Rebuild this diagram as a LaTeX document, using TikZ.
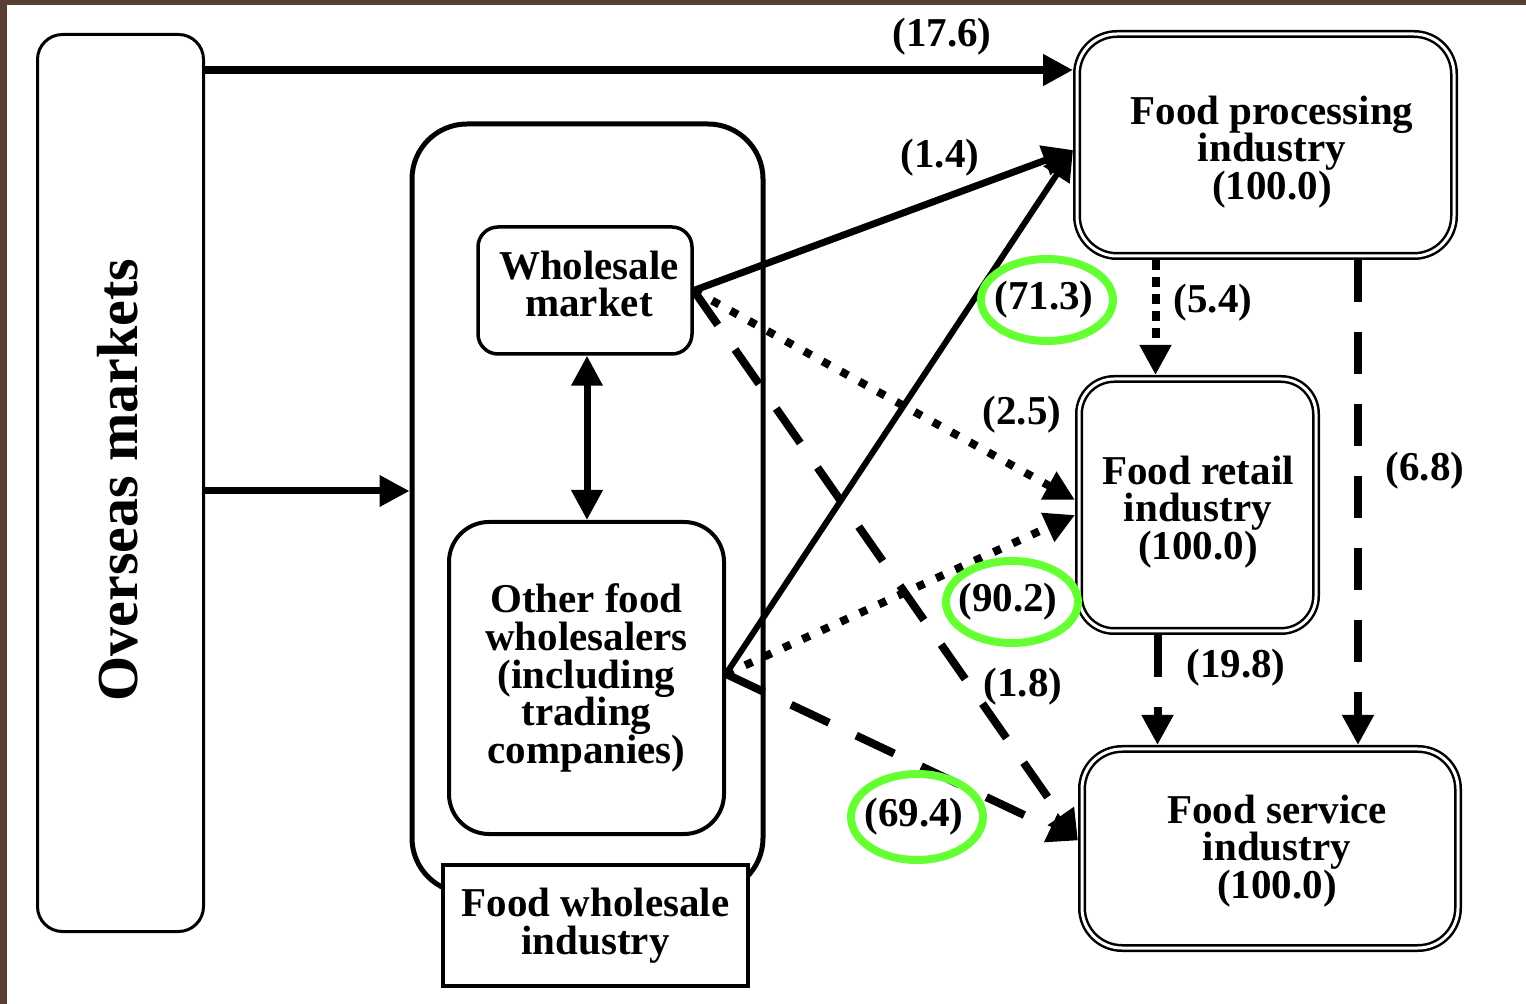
\documentclass[tikz,border=0pt]{standalone}
\usepackage{xcolor}
\usepackage{fontspec}
\setmainfont{Liberation Serif}
\usepackage{tikz}
\usetikzlibrary{shapes, arrows.meta}

\definecolor{rimbrown}{RGB}{90,62,52}
\definecolor{ringgreen}{RGB}{102,255,51}

\begin{document}
\begin{tikzpicture}[x=0.5pt,y=-0.5pt,>={Triangle[length=15pt,width=15pt]},
      font=\bfseries\fontsize{20.5}{18.8}\selectfont,
      box node/.style={draw,rectangle,rounded corners=#1,inner sep=0pt,align=center,line width=1.75pt},
      box node/.default=10pt,
      twin node/.style={draw,rectangle,rounded corners=#1,inner sep=0pt,outer sep=2pt,align=center,
        double,double distance=1.5pt,line width=1.25pt},
      twin node/.default=20pt,
      text node/.style={inner sep=0pt,align=center},
      num node/.style={inner sep=0pt},
      ring line/.style={draw=ringgreen,line width=4pt},
      flow/.style={->,line width=4pt},
      dash flow/.style={flow,dash pattern=on 21pt off 15pt},
      dot flow/.style={flow,dash pattern=on 4pt off 6.5pt}]

    % page and frame
    \fill[white] (0,0) rectangle (1526,1004);
    \fill[rimbrown] (0,0) rectangle (1526,5);
    \fill[rimbrown] (0,0) rectangle (7,1004);
    \useasboundingbox (0,0) rectangle (1526,1004);

    % left side
    \node[box node=12.5pt, line width=1.5pt, minimum width=83pt, minimum height=448.5pt] (os) at (120.5,483) {};
    \node[rotate=90, font=\bfseries\fontsize{29}{30}\selectfont] (ostext) at (118,480) {Overseas markets};

    \node[box node=27.5pt, line width=2.5pt, minimum width=175.5pt, minimum height=384.5pt] (fwi) at (587.5,508.5) {};
    \node[draw, fill=white, line width=2pt, minimum width=152.5pt, minimum height=60.5pt,
      inner sep=0pt, align=center] (fwilabel) at (595.5,925.5) {Food wholesale\\industry};
    \node[box node, minimum width=107pt, minimum height=63.5pt] (wm) at (585,290.5) {};
    \node[text node] (wmtext) at (589,284) {Wholesale\\market};
    \node[box node=20pt, line width=2pt, minimum width=137.5pt, minimum height=156pt] (ofw) at (586.5,678)
      {Other food\\wholesalers\\(including\\trading\\companies)};

    % right side
    \node[twin node, minimum width=188.5pt, minimum height=111pt] (fp) at (1265.5,145) {};
    \node[text node] (fptext) at (1272,152) {Food processing\\industry\\(100.0)};
    \node[twin node=17.5pt, minimum width=118.5pt, minimum height=126pt] (fr) at (1197.5,505) {};
    \node[text node] (frtext) at (1198,512) {Food retail\\industry\\(100.0)};
    \node[twin node, minimum width=188pt, minimum height=99.5pt] (fs) at (1270,848.5) {};
    \node[text node] (fstext) at (1277,851) {Food service\\industry\\(100.0)};

    \path[flow]
        ([yshift=206.5pt]os.east) edge ([yshift=37.5pt]fp.west)
        ([yshift=-4pt]os.east) edge[line width=3.5pt] ([yshift=8.75pt]fwi.west)
        (wm.east) edge[line width=3.5pt] ([yshift=-2.5pt]fp.west)
        ([yshift=2pt]ofw.east) edge[line width=3pt] ([yshift=-2.5pt]fp.west)
    ;
    \path[<->, line width=3.5pt] ([xshift=1pt]wm.south) edge ([xshift=1pt]wm.south |- ofw.north);
    \path[dot flow]
        (wm.east) edge ([yshift=2.5pt]fr.west)
        ([yshift=2pt]ofw.east) edge ([yshift=-5pt]fr.west)
        ([xshift=-21pt]fr.north |- fp.south) edge[dash pattern=on 5pt off 3.5pt] ([xshift=-21pt]fr.north)
    ;
    \path[dash flow]
        (wm.east) edge ([yshift=4pt]fs.west)
        ([yshift=2pt]ofw.east) edge ([yshift=4pt]fs.west)
        ([xshift=44pt]fs.north |- fp.south) edge ([xshift=44pt]fs.north)
        ([xshift=-20pt]fr.south) edge ([xshift=-20pt]fr.south |- fs.north)
    ;

    % shares
    \node[num node] (n176) at (942,37) {(17.6)};
    \node[num node] (n14) at (940,158) {(1.4)};
    \node[num node] (n713) at (1044,300) {(71.3)};
    \node[num node] (n54) at (1213,303) {(5.4)};
    \node[num node] (n25) at (1022,415) {(2.5)};
    \node[num node] (n68) at (1425,471) {(6.8)};
    \node[num node] (n902) at (1008,602) {(90.2)};
    \node[num node] (n198) at (1236,668) {(19.8)};
    \node[num node] (n18) at (1023,687) {(1.8)};
    \node[num node] (n694) at (914,817) {(69.4)};

    \draw[ring line] ([xshift=1.5pt]n713) ellipse [x radius=33pt, y radius=20.5pt];
    \draw[ring line] ([xshift=2pt]n902) ellipse [x radius=33pt, y radius=20.5pt];
    \draw[ring line] ([xshift=1.5pt]n694) ellipse [x radius=33pt, y radius=21.5pt];
\end{tikzpicture}
\end{document}
